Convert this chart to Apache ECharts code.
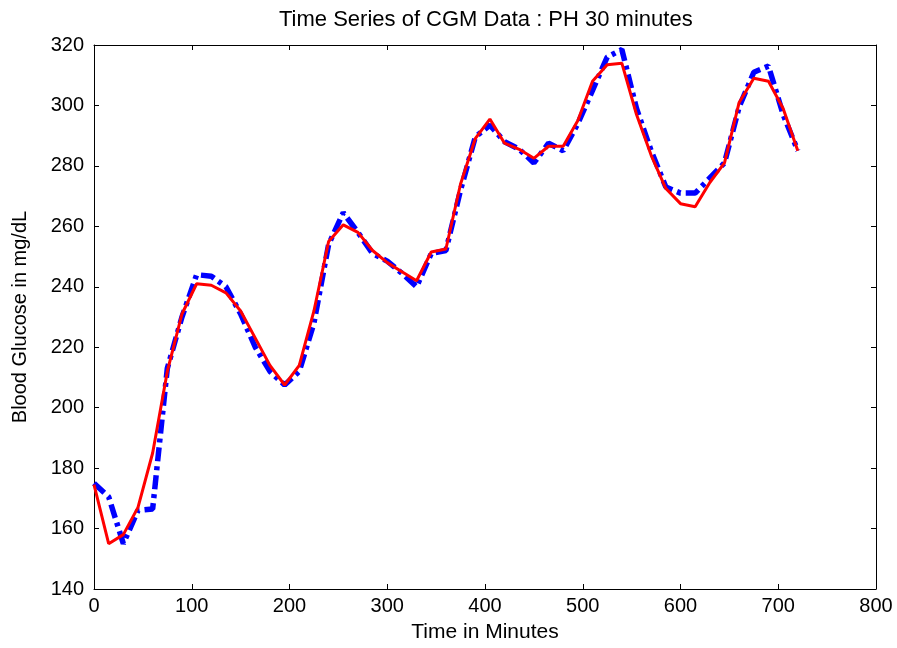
<!DOCTYPE html>
<html>
<head>
<meta charset="utf-8">
<script src="https://cdn.jsdelivr.net/npm/echarts@6/dist/echarts.min.js"></script>
<style>
  html, body { margin: 0; padding: 0; background: #fff; }
  #chart { width: 897px; height: 648px; }
</style>
</head>
<body>
<div id="chart"></div>
<script>
// time in minutes (15 min steps)
var minutes = [0, 15, 30, 45, 60, 75, 90, 105, 120, 135, 150, 165, 180, 195, 210, 225,
  240, 255, 270, 285, 300, 315, 330, 345, 360, 375, 390, 405, 420, 435, 450, 465,
  480, 495, 510, 525, 540, 555, 570, 585, 600, 615, 630, 645, 660, 675, 690, 705, 720];

// blue dash-dot series
var blueVals = [175, 170.5, 155, 166, 166.5, 213, 230, 244, 243.5, 240, 231, 220, 212, 207.5, 212, 228,
  254, 264.5, 258, 251, 248.5, 244.5, 240, 251, 252, 272, 289.5, 293.5, 288, 285.5, 281, 287.5,
  285, 294, 305, 316, 318.5, 299, 285, 273, 271, 271, 276, 281, 299.5, 311, 313, 297, 285];

// red solid series
var redVals = [174.5, 155, 158, 167, 185, 212, 231, 241, 240.5, 238, 232, 223, 214, 207.5, 214, 232,
  255, 260.5, 258, 252, 248, 245, 242, 251.5, 252.5, 274, 289, 295.5, 287.5, 285.5, 282.5, 286.5,
  286.5, 295, 308, 313.5, 314, 297, 283.5, 272.5, 267.5, 266.5, 274.5, 281, 301, 309, 308, 299, 285];

var titleText = 'Time Series of CGM Data : PH 30 minutes';
var xName = 'Time in Minutes';
var yName = 'Blood Glucose in mg/dL';

function pairs(vals) {
  return minutes.map(function(m, i) { return [m, vals[i]]; });
}

var font = 'Arial, "Liberation Sans", sans-serif';
var chart = echarts.init(document.getElementById('chart'));

var tickStyle = { show: true, inside: true, length: 5, lineStyle: { color: '#000', width: 1 } };
var lineStyle = { show: true, onZero: false, lineStyle: { color: '#000', width: 1 } };

var option = {
  backgroundColor: '#fff',
  animation: false,
  title: {
    text: titleText,
    left: 274,
    top: 4,
    textStyle: { fontFamily: font, fontSize: 22, fontWeight: 'normal', color: '#000' }
  },
  grid: { left: 94, right: 21, top: 45, bottom: 55 },
  xAxis: [{
    type: 'value',
    min: 0, max: 800, interval: 100,
    name: xName,
    nameLocation: 'middle',
    nameGap: 33,
    nameTextStyle: { fontFamily: font, fontSize: 21, color: '#000' },
    axisLine: lineStyle,
    axisTick: tickStyle,
    axisLabel: { fontFamily: font, fontSize: 20, color: '#000', margin: 7 },
    splitLine: { show: false }
  }, {
    type: 'value', position: 'top',
    min: 0, max: 800, interval: 100,
    axisLine: lineStyle,
    axisTick: tickStyle,
    axisLabel: { show: false },
    splitLine: { show: false }
  }],
  yAxis: [{
    type: 'value',
    min: 140, max: 320, interval: 20,
    name: yName,
    nameLocation: 'middle',
    nameGap: 64,
    nameTextStyle: { fontFamily: font, fontSize: 20, color: '#000' },
    axisLine: lineStyle,
    axisTick: tickStyle,
    axisLabel: { fontFamily: font, fontSize: 20, color: '#000', margin: 10 },
    splitLine: { show: false }
  }, {
    type: 'value', position: 'right',
    min: 140, max: 320, interval: 20,
    axisLine: lineStyle,
    axisTick: tickStyle,
    axisLabel: { show: false },
    splitLine: { show: false }
  }],
  series: [{
    type: 'line',
    data: pairs(blueVals),
    symbol: 'none',
    lineStyle: { color: '#0000ff', width: 5.5, type: [14, 5, 4, 5], cap: 'butt' },
    z: 2
  }, {
    type: 'line',
    data: pairs(redVals),
    symbol: 'none',
    lineStyle: { color: '#ff0000', width: 3 },
    z: 3
  }]
};

chart.setOption(option);
</script>
</body>
</html>
